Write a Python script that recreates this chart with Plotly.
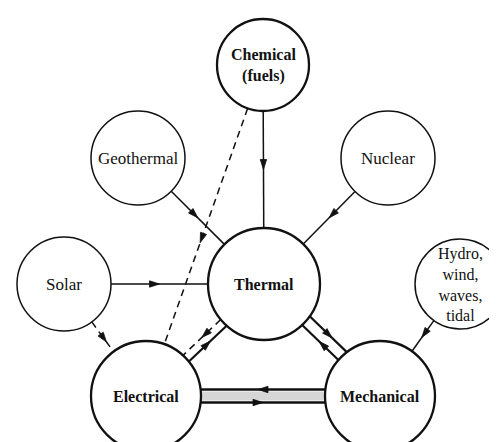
import math
import plotly.graph_objects as go

# ---- diagram data ----
node_names = ["chem", "geo", "nuc", "solar", "thermal", "hydro", "elec", "mech"]
node_labels = [["Chemical", "(fuels)"], ["Geothermal"], ["Nuclear"], ["Solar"],
               ["Thermal"], ["Hydro,", "wind,", "waves,", "tidal"], ["Electrical"], ["Mechanical"]]
node_primary = [True, False, False, False, True, False, True, True]

# layout of nodes (pixel space)
node_x = [255, 130, 380, 56, 256, 452, 138, 372]
node_y = [57, 150, 150, 276, 276, 276, 388, 388]
node_r = [46, 47, 47, 47, 56, 45, 55, 55]

# energy conversion links: source, target, style
edge_from = ["chem", "geo", "nuc", "solar", "chem", "solar", "hydro",
             "elec", "thermal", "thermal", "mech", "mech", "elec"]
edge_to = ["thermal", "thermal", "thermal", "thermal", "elec", "elec", "mech",
           "thermal", "elec", "mech", "thermal", "elec", "mech"]
edge_dashed = [False, False, False, False, True, True, False,
               False, True, False, False, False, False]
edge_offset = [0, 0, 0, 0, 0, 0, 0, 4.5, 4, -8.5, -3, 6.5, 6.5]
edge_frac = [0.5, 0.5, 0.5, 0.5, 0.57, 0.68, 0.55, 0.57, 0.5, 0.6, 0.53, 0.54, 0.5]
edge_width = [1.5, 1.5, 1.5, 1.5, 1.5, 1.5, 1.5, 2.2, 1.5, 2.2, 2.2, 2.3, 2.3]

W, H = 497, 442
INK = "#111111"
idx = {n: i for i, n in enumerate(node_names)}

fig = go.Figure()
fig.add_trace(go.Scatter(x=[0, W], y=[0, H], mode="markers",
                         marker=dict(opacity=0), hoverinfo="skip", showlegend=False))

shapes = []
annotations = []

# grey strip between Electrical and Mechanical
e, m = idx["elec"], idx["mech"]
shapes.append(dict(type="rect", xref="x", yref="y",
                   x0=node_x[e] + node_r[e] - 2, x1=node_x[m] - node_r[m] + 2,
                   y0=node_y[e] - 4.5, y1=node_y[e] + 4.5,
                   fillcolor="#d6d6d6", line=dict(width=0), layer="below"))

for a_name, b_name, dashed, off, frac, wid in zip(edge_from, edge_to, edge_dashed,
                                                  edge_offset, edge_frac, edge_width):
    a, b = idx[a_name], idx[b_name]
    ax, ay, ra = node_x[a], node_y[a], node_r[a]
    bx, by, rb = node_x[b], node_y[b], node_r[b]
    dx, dy = bx - ax, by - ay
    L = math.hypot(dx, dy)
    ux, uy = dx / L, dy / L
    nx, ny = -uy, ux
    ta = math.sqrt(max(ra * ra - off * off, 0))
    tb = math.sqrt(max(rb * rb - off * off, 0))
    sx, sy = ax + off * nx + ta * ux, ay + off * ny + ta * uy
    ex, ey = bx + off * nx - tb * ux, by + off * ny - tb * uy
    shapes.append(dict(type="line", xref="x", yref="y", x0=sx, y0=sy, x1=ex, y1=ey,
                       line=dict(color=INK, width=wid,
                                 dash="7px,5px" if dashed else "solid")))
    # arrowhead
    tx, ty = sx + frac * (ex - sx), sy + frac * (ey - sy)
    hl, hw = 10, 3.2
    p1 = (tx - hl * ux + hw * nx, ty - hl * uy + hw * ny)
    p2 = (tx - hl * ux - hw * nx, ty - hl * uy - hw * ny)
    path = f"M {tx:.2f},{ty:.2f} L {p1[0]:.2f},{p1[1]:.2f} L {p2[0]:.2f},{p2[1]:.2f} Z"
    shapes.append(dict(type="path", xref="x", yref="y", path=path,
                       fillcolor=INK, line=dict(color=INK, width=0.8)))

for i, name in enumerate(node_names):
    cx, cy, r = node_x[i], node_y[i], node_r[i]
    shapes.append(dict(type="circle", xref="x", yref="y",
                       x0=cx - r, x1=cx + r, y0=cy - r, y1=cy + r,
                       fillcolor="white",
                       line=dict(color=INK, width=2.3 if node_primary[i] else 1.5)))
    lines = node_labels[i]
    if node_primary[i]:
        txt = "<br>".join(f"<b>{t}</b>" for t in lines)
        size = 16
    else:
        txt = "<br>".join(lines)
        size = 17 if len(lines) == 1 else 16
    annotations.append(dict(x=cx, y=cy, xref="x", yref="y",
                            text=txt, showarrow=False, align="center",
                            font=dict(family="Liberation Serif", size=size, color=INK),
                            xanchor="center", yanchor="middle"))

fig.update_layout(
    width=W, height=H,
    margin=dict(l=0, r=0, t=0, b=0),
    paper_bgcolor="white", plot_bgcolor="white",
    xaxis=dict(range=[0, W], visible=False, fixedrange=True),
    yaxis=dict(range=[H, 0], visible=False, fixedrange=True),
    shapes=shapes, annotations=annotations, showlegend=False,
)

fig.write_html("out.html", config={"displayModeBar": False})
